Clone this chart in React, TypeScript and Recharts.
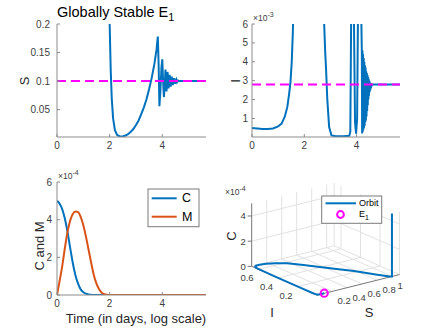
import { LineChart, ComposedChart, Line, Scatter, XAxis, YAxis, ReferenceLine } from "recharts";

const FONT = '"Liberation Sans", Arial, Helvetica, sans-serif';
const BLUE = "#0072BD";
const ORANGE = "#D95319";
const MAGENTA = "#FF00FF";
const AXIS = "#8c8c8c";
const LABEL = "#404040";
const GRID = "#e2e2e2";

// time axis (days, log scale)
const timeDomain = [0, 5.66];
const timeTicks = [0, 2, 4];

// S(t)
const sTime = [0, 0.5, 1.0, 1.3, 1.5, 1.7, 1.85, 1.95, 2.0, 2.04, 2.08, 2.13, 2.2, 2.28, 2.38, 2.5, 2.6, 2.7, 2.8, 2.9, 3.0, 3.1, 3.2, 3.3, 3.4, 3.5, 3.6, 3.7, 3.78, 3.83, 3.86, 3.89, 3.93, 3.97, 4.0, 4.03, 4.06, 4.09, 4.12, 4.14, 4.16, 4.18, 4.2, 4.22, 4.24, 4.26, 4.28, 4.3, 4.32, 4.34, 4.36, 4.38, 4.4, 4.42, 4.44, 4.46, 4.48, 4.5, 4.53, 4.56, 4.6, 4.65, 5.0, 5.66];
const sValue = [0.98, 0.98, 0.978, 0.97, 0.93, 0.75, 0.5, 0.3, 0.2, 0.12, 0.07, 0.035, 0.014, 0.006, 0.003, 0.003, 0.0045, 0.007, 0.011, 0.016, 0.023, 0.031, 0.042, 0.054, 0.068, 0.086, 0.106, 0.13, 0.155, 0.178, 0.13, 0.056, 0.085, 0.125, 0.138, 0.1, 0.072, 0.09, 0.12, 0.11, 0.082, 0.1, 0.116, 0.103, 0.087, 0.1, 0.111, 0.1, 0.09, 0.1, 0.108, 0.1, 0.093, 0.1, 0.105, 0.1, 0.095, 0.1, 0.103, 0.098, 0.101, 0.1, 0.1, 0.1];
const sTicks = [0.05, 0.1, 0.15, 0.2];
const sEquilibrium = 0.1;

// I(t)
const iTime = [0, 0.2, 0.4, 0.6, 0.8, 1.0, 1.13, 1.25, 1.35, 1.42, 1.47, 1.52, 1.56, 1.6, 1.7, 1.9, 2.1, 2.3, 2.5, 2.65, 2.72, 2.76, 2.8, 2.83, 2.88, 2.95, 3.04, 3.2, 3.5, 3.72, 3.76, 3.79, 3.82, 3.86, 3.9, 3.94, 3.98, 4.02, 4.05, 4.1, 4.16, 4.2,
  4.212, 4.224, 4.236, 4.248, 4.26, 4.272, 4.284, 4.296, 4.308, 4.32, 4.332, 4.344, 4.356, 4.368, 4.38, 4.392, 4.404, 4.416, 4.428, 4.44, 4.452, 4.464, 4.476, 4.488, 4.5, 4.512, 4.524, 4.536, 4.548, 4.56, 4.572, 4.59, 5.0, 5.66];
const iValue = [0.0005, 0.00047, 0.00044, 0.00044, 0.00047, 0.00058, 0.00073, 0.00108, 0.0016, 0.0023, 0.0029, 0.004, 0.0055, 0.0075, 0.02, 0.1, 0.4, 0.6, 0.3, 0.05, 0.012, 0.006, 0.0045, 0.0037, 0.002, 0.00055, 0.0001, 0.00006, 0.00006, 0.00008, 0.0003, 0.006, 0.02, 0.02, 0.006, 0.0008, 0.0002, 0.001, 0.006, 0.012, 0.008, 0.0046,
  0.0002, 0.0046, 0.0003, 0.0044, 0.0004, 0.0042, 0.0005, 0.004, 0.0006, 0.0038, 0.0008, 0.0037, 0.0009, 0.0035, 0.0011, 0.0034, 0.0014, 0.0033, 0.0017, 0.0032, 0.002, 0.0031, 0.0022, 0.003, 0.0024, 0.0029, 0.0025, 0.00288, 0.0026, 0.00284, 0.0027, 0.0028, 0.0028, 0.0028];
const iTicks = [0.001, 0.002, 0.003, 0.004, 0.005, 0.006];
const iEquilibrium = 0.0028;

// C(t) and M(t)
const cmTime = [0, 0.1, 0.2, 0.3, 0.4, 0.5, 0.6, 0.7, 0.8, 0.9, 1.0, 1.1, 1.2, 1.3, 1.4, 1.5, 1.6, 1.7, 1.8, 1.9, 2.0, 3.0, 4.0, 5.66];
const cValue = [5.0e-4, 4.85e-4, 4.55e-4, 4.05e-4, 3.35e-4, 2.5e-4, 1.7e-4, 1.05e-4, 0.6e-4, 0.3e-4, 0.15e-4, 0.07e-4, 0.03e-4, 0.01e-4, 0, 0, 0, 0, 0, 0, 0, 0, 0, 0];
const mValue = [0, 0.75e-4, 1.55e-4, 2.5e-4, 3.35e-4, 3.95e-4, 4.3e-4, 4.43e-4, 4.4e-4, 4.15e-4, 3.7e-4, 3.1e-4, 2.4e-4, 1.7e-4, 1.05e-4, 0.6e-4, 0.3e-4, 0.12e-4, 0.04e-4, 0.01e-4, 0, 0, 0, 0];
const cmTicks = [0, 2e-4, 4e-4, 6e-4];

// orbit in (S, I, C)
const orbitS = [1.0, 1.0, 0.98, 0.9, 0.78, 0.66, 0.57, 0.47, 0.36, 0.26, 0.17, 0.1, 0.05, 0.02, 0.008, 0.005, 0.004, 0.004, 0.004, 0.005, 0.01, 0.03, 0.06, 0.1];
const orbitI = [0.0005, 0.0005, 0.01, 0.09, 0.22, 0.33, 0.41, 0.5, 0.585, 0.63, 0.655, 0.665, 0.665, 0.65, 0.62, 0.55, 0.42, 0.28, 0.14, 0.05, 0.01, 0.004, 0.003, 0.003];
const orbitC = [5e-4, 0, 0, 0, 0, 0, 0, 0, 0, 0, 0, 0, 0, 0, 0, 0, 0, 0, 0, 0, 0, 0, 0, 0];
const e1 = { s: 0.1, i: 0.0028, c: 0 };
const sTicks3d = [0.2, 0.4, 0.6, 0.8, 1];
const iTicks3d = [0.2, 0.4, 0.6];
const cTicks3d = [0, 2e-4, 4e-4];
const S_MAX = 1.1;
const I_MAX = 0.67;
const C_MAX = 5e-4;

// tables
const sTable = sTime.map((t, k) => ({ t, s: sValue[k] }));
const iTable = iTime.map((t, k) => ({ t, i: iValue[k] }));
const cmTable = cmTime.map((t, k) => ({ t, c: cValue[k], m: mValue[k] }));

// simple orthographic view of the 3-D box
const VIEW = { sx: 75, sy: 18.75, ix: -97.5, iy: 43, cz: 126000 };
const project = (s: number, i: number, c: number) => ({
  u: VIEW.sx * s + VIEW.ix * i,
  v: VIEW.sy * s + VIEW.iy * i + VIEW.cz * c,
});

const orbitPts = orbitS.map((s, k) => project(s, orbitI[k], orbitC[k]));
const e1Pts = [project(e1.s, e1.i, e1.c)];

type P3 = [number, number, number];
const gridSegs: [P3, P3][] = [];
sTicks3d.forEach((s) => gridSegs.push([[s, 0, 0], [s, I_MAX, 0]]));
iTicks3d.forEach((i) => gridSegs.push([[0, i, 0], [S_MAX, i, 0]]));
gridSegs.push([[0, I_MAX, 0], [S_MAX, I_MAX, 0]]);
gridSegs.push([[S_MAX, 0, 0], [S_MAX, I_MAX, 0]]);
[...sTicks3d, S_MAX].forEach((s) => gridSegs.push([[s, I_MAX, 0], [s, I_MAX, C_MAX]]));
[0, ...iTicks3d].forEach((i) => gridSegs.push([[S_MAX, i, 0], [S_MAX, i, C_MAX]]));
cTicks3d.slice(1).forEach((c) => {
  gridSegs.push([[0, I_MAX, c], [S_MAX, I_MAX, c]]);
  gridSegs.push([[S_MAX, 0, c], [S_MAX, I_MAX, c]]);
});
const axisSegs: [P3, P3][] = [
  [[0, I_MAX, 0], [0, I_MAX, C_MAX]],
  [[0, 0, 0], [0, I_MAX, 0]],
  [[0, 0, 0], [S_MAX, 0, 0]],
];
const toPath = (segs: [P3, P3][]) =>
  segs.flatMap(([a, b]) => {
    const p = project(...a);
    const q = project(...b);
    return [p, q, { u: q.u, v: null }];
  });
const gridPath = toPath(gridSegs);
const axisPath = toPath(axisSegs);

const cTickPts = cTicks3d.map((c) => ({ ...project(0, I_MAX, c), label: String(Math.round(c * 1e4)) }));
const iTickPts = iTicks3d.map((i) => ({ ...project(0, i, 0), label: String(i) }));
const sTickPts = sTicks3d.map((s) => ({ ...project(s, 0, 0), label: String(s) }));

const tickStyle = { fontSize: 10, fill: LABEL, fontFamily: FONT };

function frameAxes(yDomain: number[], yTicks: number[], yWidth: number, xHeight: number, yMargin: number, yFormat?: (v: number) => string) {
  return [
    <XAxis key="xb" dataKey="t" type="number" domain={timeDomain} ticks={timeTicks} interval={0} allowDataOverflow height={xHeight} stroke={AXIS} tickSize={-3} tickMargin={8} tick={tickStyle} />,
    <XAxis key="xt" xAxisId="top" orientation="top" type="number" domain={timeDomain} ticks={timeTicks} allowDataOverflow height={0} stroke={AXIS} tickSize={-3} tick={false} />,
    <YAxis key="yl" type="number" domain={yDomain} ticks={yTicks} interval={0} allowDataOverflow width={yWidth} stroke={AXIS} tickSize={-3} tickMargin={yMargin} tick={tickStyle} tickFormatter={yFormat} />,
    <YAxis key="yr" yAxisId="right" orientation="right" type="number" domain={yDomain} ticks={yTicks} allowDataOverflow width={0} stroke={AXIS} tickSize={-3} tick={false} />,
  ];
}

const tick3d = { fontSize: 9.5, fill: LABEL, fontFamily: FONT };
const CTickLabel = (p: any) => (
  <g>
    <line x1={p.cx - 4} y1={p.cy} x2={p.cx} y2={p.cy} stroke="#777" />
    <text x={p.cx - 6} y={p.cy} textAnchor="end" dominantBaseline="central" {...tick3d}>{p.payload.label}</text>
  </g>
);
const ITickLabel = (p: any) => (
  <text x={p.cx - 11.5} y={p.cy + 8.5} textAnchor="middle" dominantBaseline="central" {...tick3d}>{p.payload.label}</text>
);
const STickLabel = (p: any) => (
  <text x={p.cx + 5.5} y={p.cy + 9.5} textAnchor="start" dominantBaseline="central" {...tick3d}>{p.payload.label}</text>
);
const E1Marker = (p: any) => <circle cx={p.cx} cy={p.cy} r={3.6} fill="none" stroke={MAGENTA} strokeWidth={2} />;

const abs = (left: number, top: number) => ({ position: "absolute" as const, left, top });

export default function App() {
  return (
    <div style={{ position: "absolute", left: 0, top: 0, width: 443, height: 332, background: "#fff", fontFamily: FONT }}>
      <div style={abs(0, 0)}>
        <LineChart width={215} height={160} data={sTable} margin={{ top: 24, right: 9, bottom: 0, left: 0 }}>
          {frameAxes([0.002, 0.2], sTicks, 57, 23, 10)}
          <Line dataKey="s" type="linear" stroke={BLUE} strokeWidth={2} dot={false} activeDot={false} isAnimationActive={false} />
          <ReferenceLine y={sEquilibrium} stroke={MAGENTA} strokeWidth={2} strokeDasharray="9 5" />
        </LineChart>
      </div>
      <div style={abs(222, 0)}>
        <LineChart width={190} height={160} data={iTable} margin={{ top: 24, right: 12, bottom: 0, left: 0 }}>
          {frameAxes([0.00002, 0.006], iTicks, 30, 23, 7, (v) => String(Math.round(v * 1000)))}
          <Line dataKey="i" type="linear" stroke={BLUE} strokeWidth={2} dot={false} activeDot={false} isAnimationActive={false} />
          <ReferenceLine y={iEquilibrium} stroke={MAGENTA} strokeWidth={2} strokeDasharray="9 5" />
        </LineChart>
      </div>
      <div style={abs(0, 158)}>
        <LineChart width={215} height={174} data={cmTable} margin={{ top: 24, right: 9, bottom: 0, left: 0 }}>
          {frameAxes([0, 6e-4], cmTicks, 57, 37, 8, (v) => String(Math.round(v * 1e4)))}
          <Line dataKey="c" type="monotone" stroke={BLUE} strokeWidth={2} dot={false} activeDot={false} isAnimationActive={false} />
          <Line dataKey="m" type="monotone" stroke={ORANGE} strokeWidth={2} dot={false} activeDot={false} isAnimationActive={false} />
        </LineChart>
      </div>
      <div style={abs(222, 170)}>
        <ComposedChart width={221} height={162} margin={{ top: 0, right: 0, bottom: 0, left: 0 }}>
          <XAxis dataKey="u" type="number" domain={[-95, 126]} allowDataOverflow hide />
          <YAxis dataKey="v" type="number" domain={[-36.8, 125.2]} allowDataOverflow hide />
          <Line data={gridPath} dataKey="v" type="linear" stroke={GRID} strokeWidth={1} dot={false} activeDot={false} isAnimationActive={false} />
          <Line data={axisPath} dataKey="v" type="linear" stroke="#777" strokeWidth={1} dot={false} activeDot={false} isAnimationActive={false} />
          <Line data={orbitPts} dataKey="v" type="linear" stroke={BLUE} strokeWidth={2} dot={false} activeDot={false} isAnimationActive={false} />
          <Scatter data={e1Pts} shape={E1Marker} isAnimationActive={false} />
          <Scatter data={cTickPts} shape={CTickLabel} isAnimationActive={false} />
          <Scatter data={iTickPts} shape={ITickLabel} isAnimationActive={false} />
          <Scatter data={sTickPts} shape={STickLabel} isAnimationActive={false} />
        </ComposedChart>
      </div>
      <svg width={443} height={332} style={{ position: "absolute", left: 0, top: 0, pointerEvents: "none" }} fontFamily={FONT}>
        <text x={57} y={17} fontSize={14.5} fill="#000">
          Globally Stable E<tspan fontSize={11} dy={4}>1</tspan>
        </text>
        <text x={24} y={81} fontSize={13} fill="#262626" textAnchor="middle" dominantBaseline="central" transform="rotate(-90 24 81)">S</text>
        <text x={235} y={81} fontSize={13} fill="#262626" textAnchor="middle" dominantBaseline="central" transform="rotate(-90 235 81)">I</text>
        <text x={253} y={21} fontSize={8.5} fill={LABEL}>×10<tspan fontSize={7} dy={-4}>-3</tspan></text>
        <text x={39} y={246} fontSize={13} fill="#262626" textAnchor="middle" dominantBaseline="central" transform="rotate(-90 39 246)">C and M</text>
        <text x={58} y={179} fontSize={8.5} fill={LABEL}>×10<tspan fontSize={7} dy={-4}>-4</tspan></text>
        <text x={136} y={323} fontSize={13} fill="#262626" textAnchor="middle">Time (in days, log scale)</text>
        <rect x={148} y={189} width={51} height={37.7} fill="#fff" stroke="#7a7a7a" />
        <line x1={151.7} y1={198.3} x2={176.7} y2={198.3} stroke={BLUE} strokeWidth={2} />
        <text x={182} y={198.3} fontSize={12.5} fill="#000" dominantBaseline="central">C</text>
        <line x1={151.7} y1={216.7} x2={176.7} y2={216.7} stroke={ORANGE} strokeWidth={2} />
        <text x={182} y={216.7} fontSize={12.5} fill="#000" dominantBaseline="central">M</text>
        <text x={225} y={195} fontSize={8.5} fill={LABEL}>×10<tspan fontSize={7} dy={-4}>-4</tspan></text>
        <text x={231} y={236} fontSize={13} fill="#262626" textAnchor="middle" dominantBaseline="central" transform="rotate(-90 231 236)">C</text>
        <text x={272} y={312} fontSize={13} fill="#262626" textAnchor="middle" dominantBaseline="central">I</text>
        <text x={369} y={312} fontSize={13} fill="#262626" textAnchor="middle" dominantBaseline="central">S</text>
        <rect x={321.7} y={196} width={60} height={27.3} fill="#fff" stroke="#7a7a7a" />
        <line x1={325.5} y1={203.3} x2={356} y2={203.3} stroke={BLUE} strokeWidth={2} />
        <text x={359} y={203.3} fontSize={9} fill="#000" dominantBaseline="central">Orbit</text>
        <circle cx={340.5} cy={214.5} r={3.4} fill="none" stroke={MAGENTA} strokeWidth={2} />
        <text x={359} y={214.3} fontSize={9} fill="#000" dominantBaseline="central">E<tspan fontSize={7} dy={3}>1</tspan></text>
      </svg>
    </div>
  );
}
